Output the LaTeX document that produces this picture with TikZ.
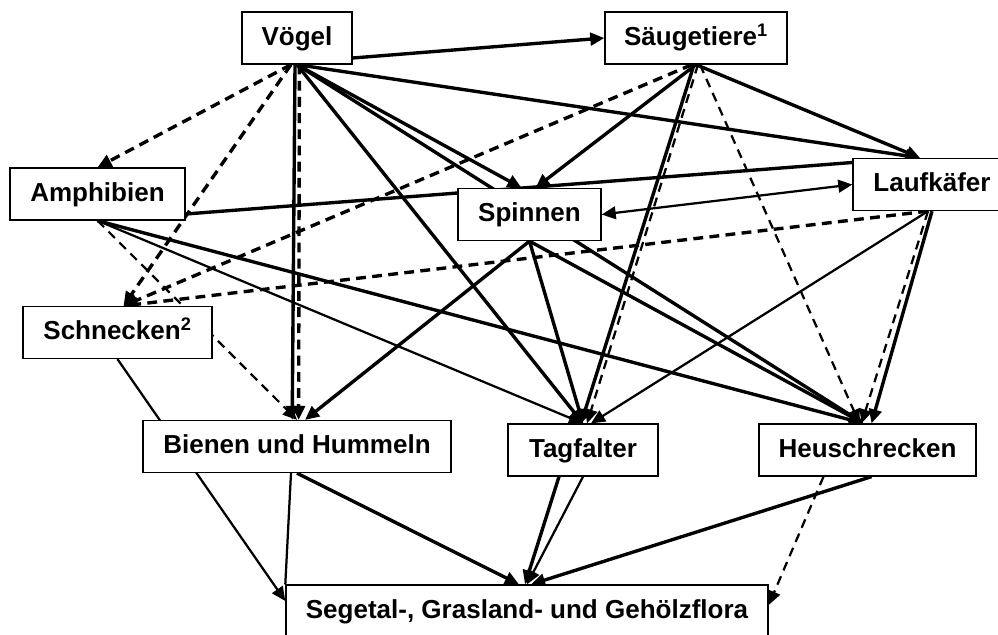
\documentclass[tikz,border=0pt]{standalone}
\usepackage{fontspec}
\setmainfont{Liberation Sans}
\usetikzlibrary{arrows.meta, backgrounds}

\begin{document}
\begin{tikzpicture}[x=0.025cm, y=-0.025cm,
  >={Triangle[length=10pt,width=9pt]},
  box/.style={draw, fill=white, line width=0.9pt, rectangle, minimum height=1.3cm,
    inner sep=0pt, text height=13pt, text depth=3pt, font=\fontsize{18.5}{22}\selectfont\bfseries},
  plain/.style={line width=1.6pt},
  link/.style={line width=2.4pt, ->},
  thinlink/.style={line width=1.6pt, ->},
  dlink/.style={link, dash pattern=on 7pt off 4.5pt},
  thindlink/.style={thinlink, dash pattern=on 6.5pt off 4.5pt}]

  \useasboundingbox (0,0) rectangle (998,634);

  % the groups as boxes
  \node[box, minimum width=2.75cm] (vog) at (297,38) {Vögel};
  \node[box, minimum width=4.55cm] (saeu) at (696,38) {Säugetiere\textsuperscript{1}};
  \node[box, minimum width=4.375cm] (amph) at (97.5,194) {Amphibien};
  \node[box, minimum width=3.575cm] (spin) at (529.5,214.5) {Spinnen};
  \node[box, minimum width=3.95cm] (lauf) at (932,184.5) {Laufkäfer};
  \node[box, minimum width=4.725cm] (sch) at (117.5,332.5) {Schnecken\textsuperscript{2}};
  \node[box, minimum width=7.7cm] (bie) at (297,446.5) {Bienen und Hummeln};
  \node[box, minimum width=3.75cm] (tag) at (583,450) {Tagfalter};
  \node[box, minimum width=5.425cm] (heu) at (867.5,450) {Heuschrecken};
  \node[box, minimum width=12.05cm] (flora) at (527,611) {Segetal-, Grasland- und Gehölzflora};

  % links, kept behind the boxes
  \begin{scope}[on background layer]
    % from Vögel
    \draw[link] ([yshift=-0.5cm]vog.east) -- (saeu.west);
    \draw[dlink] ([xshift=-0.15cm]vog.south) -- (amph.north);
    \draw[dlink] ([xshift=-0.15cm]vog.south) -- ([xshift=0.15cm]sch.north);
    \draw[link] ([xshift=-0.05cm]vog.south) -- ([xshift=-0.12cm]bie.north);
    \draw[dlink] ([xshift=0.06cm]vog.south) -- ([xshift=0.04cm]bie.north);
    \draw[link] (vog.south) -- ([xshift=-0.2cm]spin.north);
    \draw[link] (vog.south) -- ([xshift=-0.1cm]heu.north);
    \draw[link] (vog.south) -- (tag.north);
    \draw[link] (vog.south) -- ([xshift=-0.3cm]lauf.north);

    % from Säugetiere
    \draw[link] (saeu.south) -- ([xshift=0.15cm]spin.north);
    \draw[dlink] ([xshift=-0.1cm]saeu.south) -- ([xshift=0.15cm]sch.north);
    \draw[link] (saeu.south) -- ([xshift=-0.3cm]lauf.north);
    \draw[link] ([xshift=-0.05cm]saeu.south) -- ([xshift=-0.05cm]tag.north);
    \draw[thindlink] ([xshift=0.05cm]saeu.south) -- ([xshift=0.1cm]tag.north);
    \draw[thindlink] ([xshift=0.1cm]saeu.south) -- ([xshift=-0.2cm]heu.north);

    % from Amphibien
    \draw[thinlink] (amph.south) -- (tag.north);
    \draw[link] (amph.south) -- ([xshift=-0.1cm]heu.north);
    \draw[thindlink] (amph.south) -- (bie.north);
    \draw[plain, line width=2.4pt] ([yshift=-0.5cm]amph.east) -- ([yshift=0.55cm]lauf.west);

    % from Spinnen
    \draw[link] (spin.south) -- ([xshift=0.2cm]bie.north);
    \draw[link] (spin.south) -- (tag.north);
    \draw[link] (spin.south) -- ([xshift=-0.1cm]heu.north);
    \draw[thinlink, <->] (spin.east) -- (lauf.west);

    % from Laufkäfer
    \draw[dlink] ([xshift=-0.1cm]lauf.south) -- ([xshift=0.15cm]sch.north);
    \draw[thinlink] ([xshift=-0.1cm]lauf.south) -- ([xshift=0.2cm]tag.north);
    \draw[link] (lauf.south) -- ([xshift=0.1cm]heu.north);
    \draw[thindlink] ([xshift=-0.1cm]lauf.south) -- ([xshift=-0.15cm]heu.north);

    % down to the flora
    \draw[thinlink] (sch.south) -- ([yshift=0.25cm]flora.west);
    \draw[plain] ([xshift=-0.15cm]bie.south) -- (flora.north west);
    \draw[link] (bie.south) -- ([xshift=-0.2cm]flora.north);
    \draw[link] ([xshift=-0.6cm]tag.south) -- ([xshift=-0.05cm]flora.north);
    \draw[thinlink] (tag.south) -- (flora.north);
    \draw[link] ([xshift=0.1cm]heu.south) -- ([xshift=0.1cm]flora.north);
    \draw[thindlink] ([xshift=-1.1cm]heu.south) -- ([yshift=0.15cm]flora.east);
  \end{scope}
\end{tikzpicture}
\end{document}
